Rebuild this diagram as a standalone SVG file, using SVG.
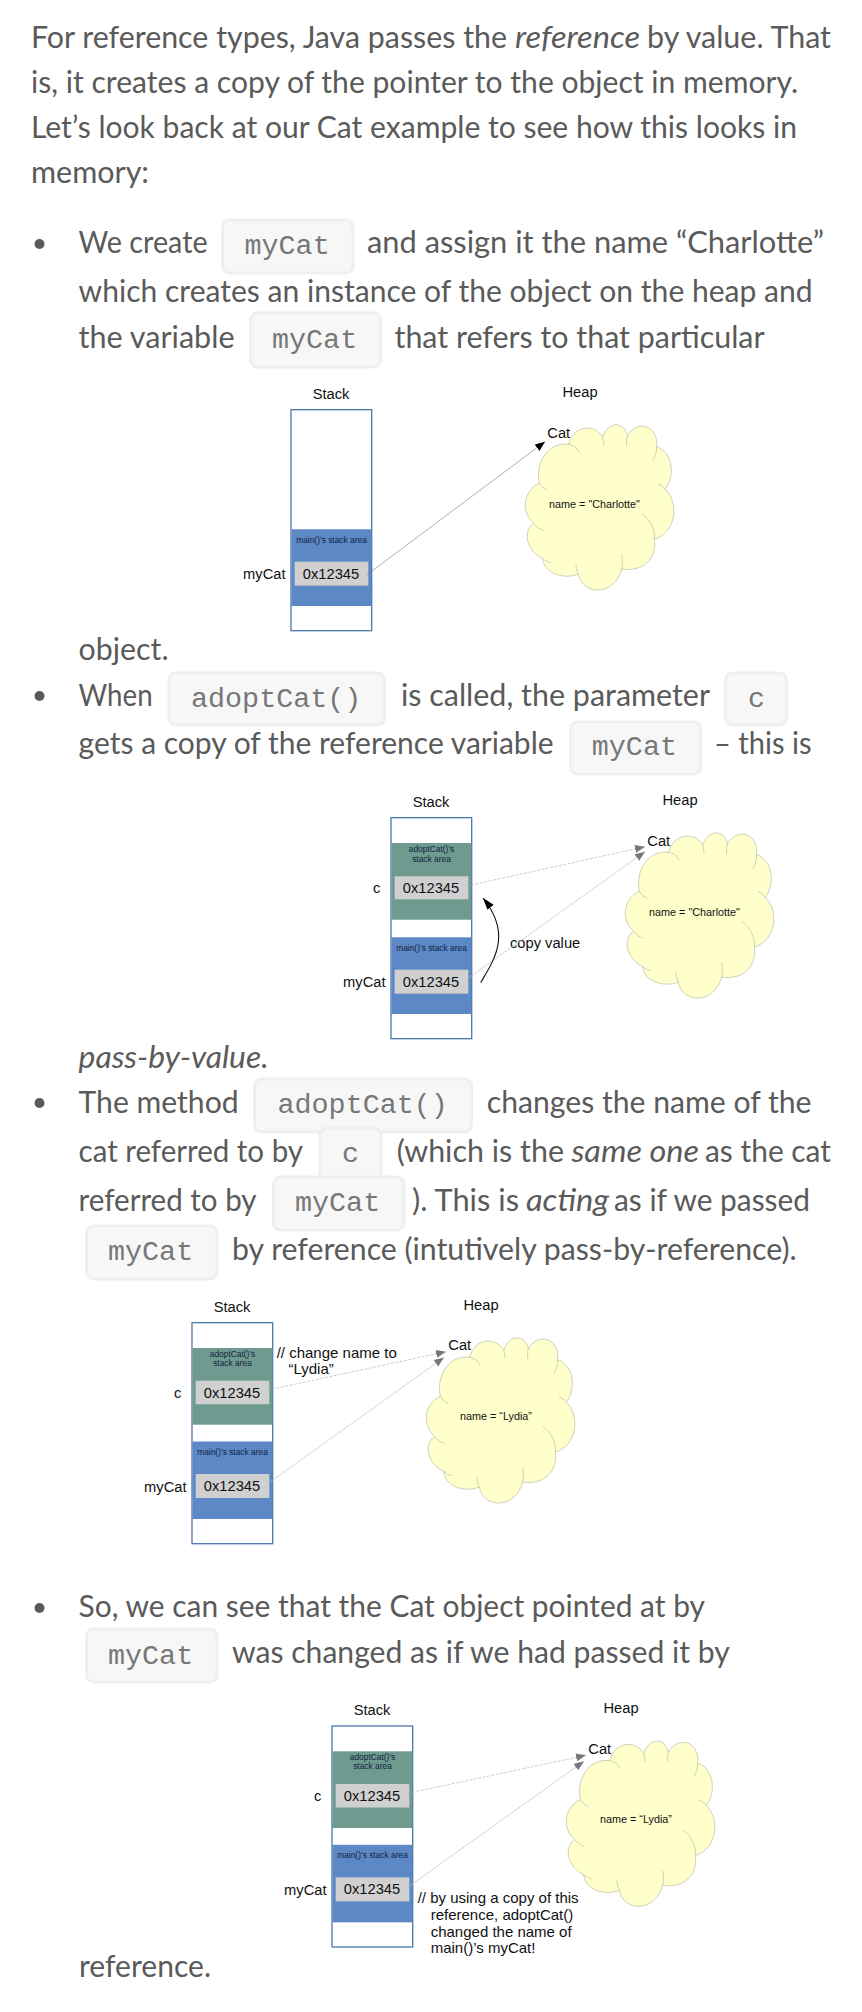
<svg xmlns="http://www.w3.org/2000/svg" xmlns:xlink="http://www.w3.org/1999/xlink" width="862" height="2012" viewBox="0 0 862 2012">
<style>
text{font-family:"Liberation Sans",Arial,sans-serif;fill:#111}
.b{font-family:Lato,"Noto Sans",sans-serif;font-size:30.5px;fill:#5a5a5a}
.i{font-style:italic}
.m{font-family:"Liberation Mono","Courier New",monospace;font-size:28.4px;fill:#777}
.cb{fill:#f7f7f7;stroke:#efefef;stroke-width:3}
.dot{fill:#5a5a5a}
.frame{fill:#fff;stroke:#4a76ac;stroke-width:1.3}
.blue{fill:#5c88c5}
.green{fill:#6e9a8f}
.val{fill:#d0d0d0}
.l15{font-size:14.7px}
.n15{font-size:15px}
.l11{font-size:10.8px}
.l8{font-size:8.4px;fill:#13233f}
.cf{fill:#ffffcc;stroke:#b0b09c;stroke-width:1.8}
.ci{fill:none;stroke:#b0b09c;stroke-width:1.8}
.a1{fill:none;stroke:#777;stroke-width:.6;marker-end:url(#ah-black)}
.a2{fill:none;stroke:#c0c0c0;stroke-width:.7;marker-end:url(#ah-gray)}
.a3{fill:none;stroke:#b8b8b8;stroke-width:.7;stroke-dasharray:3 1.5;marker-end:url(#ah-gray)}
.a4{fill:none;stroke:#111;stroke-width:1.1;marker-end:url(#ah-large)}
</style>
<defs>
<marker id="ah-black" markerUnits="userSpaceOnUse" markerWidth="12" markerHeight="10" refX="10" refY="4" orient="auto"><path d="M0 0L10 4L0 8Z" fill="#000"/></marker>
<marker id="ah-gray" markerUnits="userSpaceOnUse" markerWidth="12" markerHeight="10" refX="10" refY="4" orient="auto"><path d="M0 0L10 4L0 8Z" fill="#777"/></marker>
<marker id="ah-large" markerUnits="userSpaceOnUse" markerWidth="14" markerHeight="10" refX="12" refY="4" orient="auto"><path d="M0 0L12 4L0 8Z" fill="#000"/></marker>
<g id="cloud" transform="translate(220 375) scale(.33333)">
<path class="cf" d="M958 325C945 262 985 200 1046 208C1060 150 1125 145 1148 186C1165 138 1212 138 1222 182C1252 132 1316 150 1310 215C1356 230 1368 300 1336 343C1380 385 1366 475 1303 492C1312 550 1268 592 1205 582C1185 662 1088 665 1075 597C1030 615 972 595 968 550C922 530 905 470 941 445C900 410 912 345 958 325Z"/>
<path class="ci" d="M1046 208C1060 210 1070 218 1078 232M1303 492C1306 465 1292 435 1265 415M1205 582C1208 565 1208 552 1205 538M1075 597C1070 585 1068 578 1068 568M968 550C975 557 982 561 992 563M941 445C950 456 958 462 970 466M1336 343C1330 335 1322 330 1314 326M1310 215C1310 232 1306 245 1298 256M1222 182C1219 195 1219 205 1221 214M1148 186C1151 198 1152 205 1152 212M958 325C964 335 972 342 982 346"/>
</g>
</defs>
<rect width="862" height="2012" fill="#fff"/>

<g id="text-intro">
<text class="b" x="31" y="48" textLength="476" lengthAdjust="spacingAndGlyphs">For reference types, Java passes the</text>
<text class="b i" x="515" y="48" textLength="125" lengthAdjust="spacingAndGlyphs">reference</text>
<text class="b" x="647" y="48" textLength="184" lengthAdjust="spacingAndGlyphs">by value. That</text>
<text class="b" x="31" y="93" textLength="767" lengthAdjust="spacingAndGlyphs">is, it creates a copy of the pointer to the object in memory.</text>
<text class="b" x="31" y="138" textLength="766" lengthAdjust="spacingAndGlyphs">Let’s look back at our Cat example to see how this looks in</text>
<text class="b" x="31" y="183" textLength="118" lengthAdjust="spacingAndGlyphs">memory:</text>
</g>

<g id="bullet-1">
<circle class="dot" cx="39.5" cy="244" r="5"/>
<text class="b" x="78.6" y="253" textLength="129" lengthAdjust="spacingAndGlyphs">We create</text>
<rect class="cb" x="222.5" y="220" width="130.5" height="53" rx="7"/>
<text class="m" x="244.5" y="254">myCat</text>
<text class="b" x="367" y="253" textLength="457" lengthAdjust="spacingAndGlyphs">and assign it the name “Charlotte”</text>
<text class="b" x="78.6" y="302" textLength="734" lengthAdjust="spacingAndGlyphs">which creates an instance of the object on the heap and</text>
<text class="b" x="78.6" y="348" textLength="156" lengthAdjust="spacingAndGlyphs">the variable</text>
<rect class="cb" x="250.5" y="313" width="130" height="54" rx="7"/>
<text class="m" x="272" y="348">myCat</text>
<text class="b" x="394.5" y="348" textLength="370" lengthAdjust="spacingAndGlyphs">that refers to that particular</text>
<text class="b" x="78.6" y="660" textLength="90" lengthAdjust="spacingAndGlyphs">object.</text>
</g>

<g id="diagram-1">
<g id="d1-stack">
<rect class="frame" x="291" y="409.7" width="80.7" height="221"/>
<rect class="blue" x="291.5" y="529.3" width="79.7" height="76.7"/>
<rect class="val" x="294.7" y="561.7" width="73.6" height="24"/>
<text class="l15" x="331" y="399" text-anchor="middle">Stack</text>
<text class="l8" x="331.5" y="542.7" text-anchor="middle">main()’s stack area</text>
<text class="l15" x="331" y="578.7" text-anchor="middle">0x12345</text>
<text class="l15" x="285.5" y="579" text-anchor="end">myCat</text>
</g>
<g id="d1-heap">
<use xlink:href="#cloud" href="#cloud"/>
<text class="l15" x="580" y="397" text-anchor="middle">Heap</text>
<text class="l15" x="547.3" y="437.7">Cat</text>
<text class="l11" x="594.5" y="507.7" text-anchor="middle">name = "Charlotte"</text>
</g>
</g>

<g id="bullet-2">
<circle class="dot" cx="39.5" cy="696" r="5"/>
<text class="b" x="78.6" y="706" textLength="74" lengthAdjust="spacingAndGlyphs">When</text>
<rect class="cb" x="169" y="673" width="215.5" height="52" rx="7"/>
<text class="m" x="191" y="707">adoptCat()</text>
<text class="b" x="401" y="706" textLength="309" lengthAdjust="spacingAndGlyphs">is called, the parameter</text>
<rect class="cb" x="725.5" y="673" width="61" height="52" rx="7"/>
<text class="m" x="748" y="707">c</text>
<text class="b" x="78.6" y="754" textLength="475" lengthAdjust="spacingAndGlyphs">gets a copy of the reference variable</text>
<rect class="cb" x="570.5" y="722" width="130" height="52" rx="7"/>
<text class="m" x="591.8" y="755">myCat</text>
<text class="b" x="714" y="754" textLength="97.5" lengthAdjust="spacingAndGlyphs">– this is</text>
<text class="b i" x="78.6" y="1068" textLength="190" lengthAdjust="spacingAndGlyphs">pass-by-value.</text>
</g>

<g id="diagram-2" transform="translate(100 408)">
<g id="d2-stack">
<rect class="frame" x="291" y="409.7" width="80.7" height="221"/>
<rect class="green" x="291.5" y="435" width="79.7" height="76.7"/>
<rect class="blue" x="291.5" y="529.3" width="79.7" height="76.7"/>
<rect class="val" x="294.7" y="468.3" width="73.6" height="23"/>
<rect class="val" x="294.7" y="561.7" width="73.6" height="24"/>
<text class="l15" x="331" y="399" text-anchor="middle">Stack</text>
<text class="l8" x="331.5" y="444.3" text-anchor="middle">adoptCat()’s</text>
<text class="l8" x="331.5" y="453.7" text-anchor="middle">stack area</text>
<text class="l8" x="331.5" y="542.7" text-anchor="middle">main()’s stack area</text>
<text class="l15" x="331" y="485.3" text-anchor="middle">0x12345</text>
<text class="l15" x="331" y="578.7" text-anchor="middle">0x12345</text>
<text class="l15" x="273" y="485.3">c</text>
<text class="l15" x="285.5" y="579" text-anchor="end">myCat</text>
</g>
<g id="d2-heap">
<use xlink:href="#cloud" href="#cloud"/>
<text class="l15" x="580" y="397" text-anchor="middle">Heap</text>
<text class="l15" x="547.3" y="437.7">Cat</text>
<text class="l11" x="594.5" y="507.7" text-anchor="middle">name = "Charlotte"</text>
</g>
<text id="d2-copy-value" class="l15" x="410" y="540">copy value</text>
</g>

<g id="bullet-3">
<circle class="dot" cx="39.5" cy="1103" r="5"/>
<text class="b" x="78.6" y="1112.7" textLength="160" lengthAdjust="spacingAndGlyphs">The method</text>
<rect class="cb" x="254.5" y="1079" width="217" height="53" rx="7"/>
<text class="m" x="277.5" y="1113">adoptCat()</text>
<text class="b" x="486.8" y="1112.7" textLength="324.7" lengthAdjust="spacingAndGlyphs">changes the name of the</text>
<text class="b" x="78.6" y="1161.7" textLength="224.4" lengthAdjust="spacingAndGlyphs">cat referred to by</text>
<rect class="cb" x="320" y="1128" width="61" height="53" rx="7"/>
<text class="m" x="342" y="1162">c</text>
<text class="b" x="396.7" y="1161.7" textLength="167.3" lengthAdjust="spacingAndGlyphs">(which is the</text>
<text class="b i" x="571.4" y="1161.7" textLength="127.6" lengthAdjust="spacingAndGlyphs">same one</text>
<text class="b" x="705" y="1161.7" textLength="126" lengthAdjust="spacingAndGlyphs">as the cat</text>
<text class="b" x="78.6" y="1210.7" textLength="178" lengthAdjust="spacingAndGlyphs">referred to by</text>
<rect class="cb" x="273.5" y="1177" width="130.5" height="53" rx="7"/>
<text class="m" x="295" y="1211">myCat</text>
<text class="b" x="412" y="1210.7" textLength="107" lengthAdjust="spacingAndGlyphs">). This is</text>
<text class="b i" x="526" y="1210.7" textLength="83" lengthAdjust="spacingAndGlyphs">acting</text>
<text class="b" x="614" y="1210.7" textLength="196" lengthAdjust="spacingAndGlyphs">as if we passed</text>
<rect class="cb" x="86.5" y="1226" width="130.5" height="53" rx="7"/>
<text class="m" x="108" y="1260">myCat</text>
<text class="b" x="232" y="1260" textLength="564.7" lengthAdjust="spacingAndGlyphs">by reference (intutively pass-by-reference).</text>
</g>

<g id="diagram-3" transform="translate(-99 913)">
<g id="d3-stack">
<rect class="frame" x="291" y="409.7" width="80.7" height="221"/>
<rect class="green" x="291.5" y="435" width="79.7" height="76.7"/>
<rect class="blue" x="291.5" y="528.5" width="79.7" height="77.5"/>
<rect class="val" x="294.7" y="467.7" width="73.6" height="23.5"/>
<rect class="val" x="294.7" y="561" width="73.6" height="24"/>
<text class="l15" x="331" y="399" text-anchor="middle">Stack</text>
<text class="l8" x="331.5" y="444" text-anchor="middle">adoptCat()’s</text>
<text class="l8" x="331.5" y="453" text-anchor="middle">stack area</text>
<text class="l8" x="331.5" y="542" text-anchor="middle">main()’s stack area</text>
<text class="l15" x="331" y="485" text-anchor="middle">0x12345</text>
<text class="l15" x="331" y="578" text-anchor="middle">0x12345</text>
<text class="l15" x="273" y="485">c</text>
<text class="l15" x="285.5" y="578.5" text-anchor="end">myCat</text>
</g>
<g id="d3-heap">
<use xlink:href="#cloud" href="#cloud"/>
<text class="l15" x="580" y="397" text-anchor="middle">Heap</text>
<text class="l15" x="547.3" y="437.3">Cat</text>
<text class="l11" x="595" y="507" text-anchor="middle">name = “Lydia”</text>
</g>
<text id="d3-note" class="n15" x="375.7" y="445.3">// change name to</text>
<text class="n15" x="387.5" y="461.3">“Lydia”</text>
</g>

<g id="bullet-4">
<circle class="dot" cx="39.5" cy="1608" r="5"/>
<text class="b" x="78.6" y="1616.7" textLength="626.4" lengthAdjust="spacingAndGlyphs">So, we can see that the Cat object pointed at by</text>
<rect class="cb" x="86.5" y="1629" width="130.5" height="53" rx="7"/>
<text class="m" x="108" y="1664">myCat</text>
<text class="b" x="232" y="1663" textLength="497.7" lengthAdjust="spacingAndGlyphs">was changed as if we had passed it by</text>
<text class="b" x="79" y="1977" textLength="132" lengthAdjust="spacingAndGlyphs">reference.</text>
</g>

<g id="diagram-4" transform="translate(41 1316.3)">
<g id="d4-stack">
<rect class="frame" x="291" y="409.7" width="80.7" height="221"/>
<rect class="green" x="291.5" y="435" width="79.7" height="76.7"/>
<rect class="blue" x="291.5" y="528.5" width="79.7" height="77.5"/>
<rect class="val" x="294.7" y="467.7" width="73.6" height="23.5"/>
<rect class="val" x="294.7" y="561" width="73.6" height="24"/>
<text class="l15" x="331" y="399" text-anchor="middle">Stack</text>
<text class="l8" x="331.5" y="444" text-anchor="middle">adoptCat()’s</text>
<text class="l8" x="331.5" y="453" text-anchor="middle">stack area</text>
<text class="l8" x="331.5" y="542" text-anchor="middle">main()’s stack area</text>
<text class="l15" x="331" y="485" text-anchor="middle">0x12345</text>
<text class="l15" x="331" y="578" text-anchor="middle">0x12345</text>
<text class="l15" x="273" y="485">c</text>
<text class="l15" x="285.5" y="578.5" text-anchor="end">myCat</text>
</g>
<g id="d4-heap">
<use xlink:href="#cloud" href="#cloud"/>
<text class="l15" x="580" y="397" text-anchor="middle">Heap</text>
<text class="l15" x="547.3" y="437.3">Cat</text>
<text class="l11" x="595" y="507" text-anchor="middle">name = “Lydia”</text>
</g>
<g id="d4-note">
<text class="n15" x="376.7" y="587">// by using a copy of this</text>
<text class="n15" x="389.7" y="603.7">reference, adoptCat()</text>
<text class="n15" x="389.7" y="620.3">changed the name of</text>
<text class="n15" x="389.7" y="637">main()’s myCat!</text>
</g>
</g>

<g id="connectors">
<path class="a1" d="M366.7 575L545 441.7"/>
<g transform="translate(100 408)">
<path class="a3" d="M366.7 478L545 438.7"/>
<path class="a2" d="M366.7 571.3L545 443.7"/>
<path class="a4" d="M380.7 574.7C393 553 413 527 383 490"/>
</g>
<g transform="translate(-99 913)">
<path class="a3" d="M366.7 477L545 438.7"/>
<path class="a2" d="M366.7 570.7L543 444.5"/>
</g>
<g transform="translate(41 1316.3)">
<path class="a3" d="M366.7 477L545 439"/>
<path class="a2" d="M366.7 571L543 445"/>
</g>
</g>
</svg>
